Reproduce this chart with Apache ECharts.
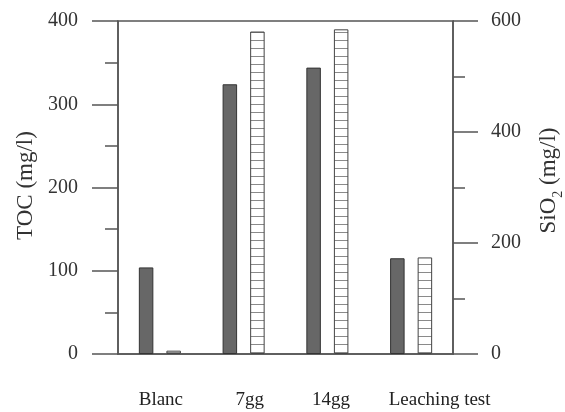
<!DOCTYPE html>
<html>
<head>
<meta charset="utf-8">
<script src="https://cdn.jsdelivr.net/npm/echarts@6/dist/echarts.min.js"></script>
<style>
  html, body { margin: 0; padding: 0; background: #fff; }
  #chart { width: 565px; height: 412px; }
</style>
</head>
<body>
<div id="chart"></div>
<script>
// Samples and measured concentrations
var categories = ['Blanc', '7gg', '14gg', 'Leaching test'];
var tocValues = [104, 324, 344, 115];      // TOC, mg/l (left axis)
var sio2Values = [6, 581, 585, 174];       // SiO2, mg/l (right axis)
var tocTicks = [0, 100, 200, 300, 400];
var sio2Ticks = [0, 200, 400, 600];

// Horizontal-line hatch used for the SiO2 bars
function makeHatch() {
  var c = document.createElement('canvas');
  c.width = 4;
  c.height = 8;
  var ctx = c.getContext('2d');
  ctx.fillStyle = '#ffffff';
  ctx.fillRect(0, 0, 4, 8);
  ctx.fillStyle = '#8a8a8a';
  ctx.fillRect(0, 0, 4, 1);
  return c;
}

var serif = '"Liberation Serif", "DejaVu Serif", serif';
var axisGray = '#555';
var textGray = '#333';

// Small per-label nudges for the category captions
var labelShift = [1, 6, 3.5, 28.5];
var richCats = {};
labelShift.forEach(function (s, i) {
  richCats['c' + i] = {
    fontFamily: serif, fontSize: 19, color: '#222',
    padding: [0, 0, 0, 2 * s]
  };
});

var chart = echarts.init(document.getElementById('chart'), null, { renderer: 'canvas' });

chart.setOption({
  animation: false,
  backgroundColor: '#fff',
  grid: {
    left: 118, right: 112, top: 21, bottom: 58,
    outerBoundsMode: 'none',
    containLabel: false,
    show: true, borderColor: axisGray, borderWidth: 1.5,
    backgroundColor: 'transparent'
  },
  xAxis: {
    type: 'category',
    data: categories,
    boundaryGap: true,
    axisLine: { show: true, lineStyle: { color: axisGray, width: 1.5 } },
    axisTick: { show: false },
    axisLabel: {
      interval: 0,
      margin: 37,
      formatter: function (v, i) { return '{c' + i + '|' + v + '}'; },
      rich: richCats
    }
  },
  yAxis: [
    {
      type: 'value',
      position: 'left',
      min: tocTicks[0],
      max: tocTicks[tocTicks.length - 1],
      interval: tocTicks[1] - tocTicks[0],
      name: 'TOC (mg/l)',
      nameLocation: 'middle',
      nameRotate: 90,
      nameGap: 78,
      nameTextStyle: { fontFamily: serif, fontSize: 23, color: textGray, padding: [0, 0, 0, 4] },
      axisLine: { show: true, lineStyle: { color: axisGray, width: 1.5 } },
      axisTick: { show: true, inside: false, length: 26, lineStyle: { color: axisGray, width: 1.5 } },
      minorTick: { show: true, splitNumber: 2, length: 13, lineStyle: { color: axisGray, width: 1.5 } },
      splitLine: { show: false },
      axisLabel: { margin: 40, fontFamily: serif, fontSize: 20, color: textGray }
    },
    {
      type: 'value',
      position: 'right',
      min: sio2Ticks[0],
      max: sio2Ticks[sio2Ticks.length - 1],
      interval: sio2Ticks[1] - sio2Ticks[0],
      name: '{n|SiO}{s|2}{n| (mg/l)}',
      nameLocation: 'middle',
      nameRotate: 90,
      nameGap: 83,
      nameTextStyle: {
        fontFamily: serif, fontSize: 23, color: textGray,
        padding: [0, 0, 0, 14],
        rich: {
          n: { fontFamily: serif, fontSize: 23, color: textGray, lineHeight: 26 },
          s: { fontFamily: serif, fontSize: 14, color: textGray, verticalAlign: 'bottom', lineHeight: 14, padding: [0, 0, -3, 0] }
        }
      },
      axisLine: { show: true, lineStyle: { color: axisGray, width: 1.5 } },
      axisTick: { show: true, inside: false, length: 25, lineStyle: { color: axisGray, width: 1.5 } },
      minorTick: { show: true, splitNumber: 2, length: 12, lineStyle: { color: axisGray, width: 1.5 } },
      splitLine: { show: false },
      axisLabel: { margin: 38, fontFamily: serif, fontSize: 20, color: textGray }
    }
  ],
  series: [
    {
      name: 'TOC',
      type: 'bar',
      yAxisIndex: 0,
      data: tocValues,
      barWidth: 14.5,
      barGap: '90%',
      itemStyle: { color: '#676767', borderColor: '#333', borderWidth: 1 }
    },
    {
      name: 'SiO2',
      type: 'bar',
      yAxisIndex: 1,
      data: sio2Values,
      barWidth: 14.5,
      barGap: '90%',
      itemStyle: {
        color: { image: makeHatch(), repeat: 'repeat' },
        borderColor: '#444', borderWidth: 1
      }
    }
  ]
});
</script>
</body>
</html>
